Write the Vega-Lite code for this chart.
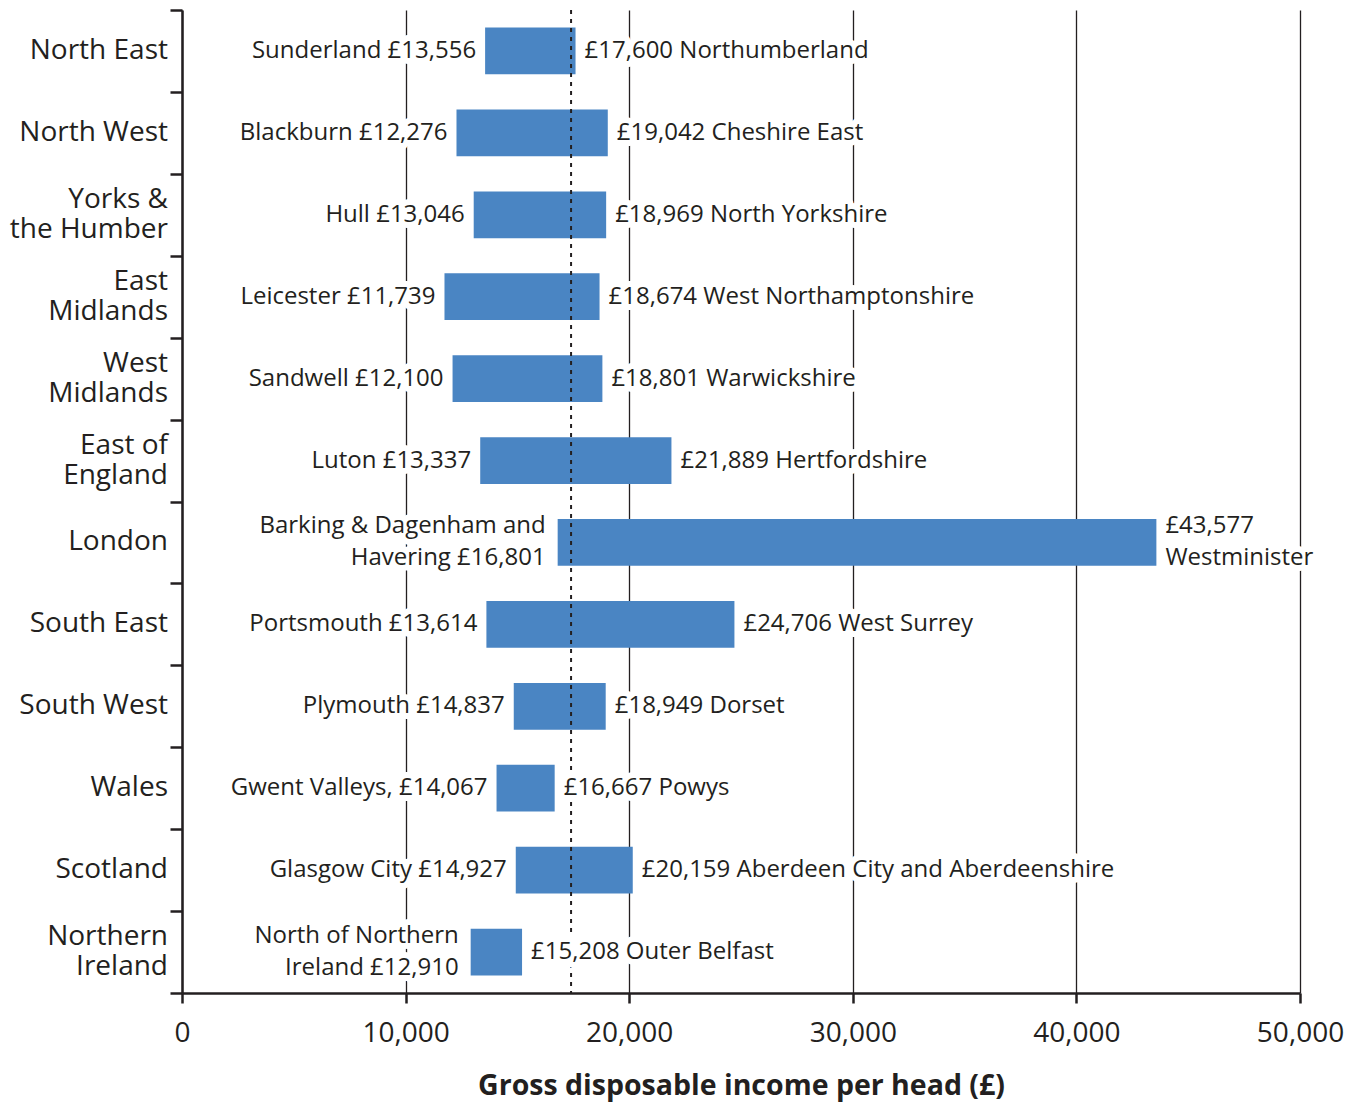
{
  "$schema": "https://vega.github.io/schema/vega-lite/v6.json",
  "width": 1118,
  "height": 983,
  "autosize": {"type": "none"},
  "padding": {"left": 182, "top": 10, "right": 59, "bottom": 109},
  "background": "white",
  "config": {
    "view": {"stroke": null},
    "font": "Open Sans",
    "axis": {
      "domainColor": "#231f20",
      "domainWidth": 2.5,
      "tickColor": "#231f20",
      "tickWidth": 2.5,
      "labelColor": "#231f20",
      "titleColor": "#231f20",
      "labelFont": "Open Sans",
      "titleFont": "Open Sans"
    }
  },
  "data": {
    "values": [
      {"region": "North East", "regionLabel": ["North East"], "lo": 13556, "hi": 17600, "loLabel": ["Sunderland £13,556"], "hiLabel": ["£17,600 Northumberland"]},
      {"region": "North West", "regionLabel": ["North West"], "lo": 12276, "hi": 19042, "loLabel": ["Blackburn £12,276"], "hiLabel": ["£19,042 Cheshire East"]},
      {"region": "Yorks & the Humber", "regionLabel": ["Yorks &", "the Humber"], "lo": 13046, "hi": 18969, "loLabel": ["Hull £13,046"], "hiLabel": ["£18,969 North Yorkshire"]},
      {"region": "East Midlands", "regionLabel": ["East", "Midlands"], "lo": 11739, "hi": 18674, "loLabel": ["Leicester £11,739"], "hiLabel": ["£18,674 West Northamptonshire"]},
      {"region": "West Midlands", "regionLabel": ["West", "Midlands"], "lo": 12100, "hi": 18801, "loLabel": ["Sandwell £12,100"], "hiLabel": ["£18,801 Warwickshire"]},
      {"region": "East of England", "regionLabel": ["East of ", "England"], "lo": 13337, "hi": 21889, "loLabel": ["Luton £13,337"], "hiLabel": ["£21,889 Hertfordshire"]},
      {"region": "London", "regionLabel": ["London"], "lo": 16801, "hi": 43577, "loLabel": ["Barking & Dagenham and", "Havering £16,801"], "hiLabel": ["£43,577", "Westminister"]},
      {"region": "South East", "regionLabel": ["South East"], "lo": 13614, "hi": 24706, "loLabel": ["Portsmouth £13,614"], "hiLabel": ["£24,706 West Surrey"]},
      {"region": "South West", "regionLabel": ["South West"], "lo": 14837, "hi": 18949, "loLabel": ["Plymouth £14,837"], "hiLabel": ["£18,949 Dorset"]},
      {"region": "Wales", "regionLabel": ["Wales"], "lo": 14067, "hi": 16667, "loLabel": ["Gwent Valleys, £14,067"], "hiLabel": ["£16,667 Powys"]},
      {"region": "Scotland", "regionLabel": ["Scotland"], "lo": 14927, "hi": 20159, "loLabel": ["Glasgow City £14,927"], "hiLabel": ["£20,159 Aberdeen City and Aberdeenshire"]},
      {"region": "Northern Ireland", "regionLabel": ["Northern", "Ireland"], "lo": 12910, "hi": 15208, "loLabel": ["North of Northern", "Ireland £12,910"], "hiLabel": ["£15,208 Outer Belfast"]}
    ]
  },
  "layer": [
    {
      "mark": {"type": "bar", "height": {"band": 0.57}, "color": "#4a85c3"},
      "encoding": {
        "y": {
          "field": "region", "type": "nominal", "sort": null,
          "scale": {"paddingInner": 0, "paddingOuter": 0},
          "axis": {
            "title": null,
            "tickBand": "extent",
            "tickSize": 12,
            "labels": false,
            "grid": false
          }
        },
        "x": {
          "field": "lo", "type": "quantitative",
          "scale": {"domain": [0, 50000], "nice": false},
          "axis": {
            "title": "Gross disposable income per head (£)",
            "values": [0, 10000, 20000, 30000, 40000, 50000],
            "format": ",d",
            "grid": true,
            "gridColor": "#231f20",
            "gridWidth": 1.3,
            "tickSize": 10,
            "labelFontSize": 28,
            "labelPadding": 16,
            "labelFlush": false,
            "titleFontSize": 28.5,
            "titleFontWeight": "bold",
            "titlePadding": 24
          }
        },
        "x2": {"field": "hi"}
      }
    },
    {
      "data": {"values": [{"average": 17400}]},
      "mark": {"type": "rule", "strokeDash": [4, 5], "strokeWidth": 2, "color": "#231f20"},
      "encoding": {"x": {"field": "average", "type": "quantitative"}}
    },
    {
      "transform": [{"filter": "length(datum.regionLabel) == 1"}],
      "mark": {"type": "text", "align": "right", "baseline": "middle", "dx": -14, "fontSize": 28, "lineHeight": 30, "color": "#231f20"},
      "encoding": {
        "y": {"field": "region", "type": "nominal", "sort": null},
        "x": {"datum": 0, "type": "quantitative"},
        "text": {"field": "regionLabel"}
      }
    },
    {
      "transform": [{"filter": "length(datum.regionLabel) > 1"}],
      "mark": {"type": "text", "align": "right", "baseline": "middle", "dx": -14, "dy": -15, "fontSize": 28, "lineHeight": 30, "color": "#231f20"},
      "encoding": {
        "y": {"field": "region", "type": "nominal", "sort": null},
        "x": {"datum": 0, "type": "quantitative"},
        "text": {"field": "regionLabel"}
      }
    },
    {
      "transform": [{"filter": "length(datum.loLabel) == 1"}],
      "encoding": {
        "y": {"field": "region", "type": "nominal", "sort": null},
        "x": {"field": "lo", "type": "quantitative"},
        "text": {"field": "loLabel"}
      },
      "layer": [
        {"mark": {"type": "text", "align": "right", "baseline": "middle", "dx": -9, "fontSize": 24, "lineHeight": 32, "stroke": "white", "strokeWidth": 12, "strokeJoin": "round", "fill": "white"}},
        {"mark": {"type": "text", "align": "right", "baseline": "middle", "dx": -9, "fontSize": 24, "lineHeight": 32, "color": "#231f20"}}
      ]
    },
    {
      "transform": [{"filter": "length(datum.loLabel) > 1"}],
      "encoding": {
        "y": {"field": "region", "type": "nominal", "sort": null},
        "x": {"field": "lo", "type": "quantitative"},
        "text": {"field": "loLabel"}
      },
      "layer": [
        {"mark": {"type": "text", "align": "right", "baseline": "middle", "dx": -12, "dy": -16, "fontSize": 24, "lineHeight": 32, "stroke": "white", "strokeWidth": 12, "strokeJoin": "round", "fill": "white"}},
        {"mark": {"type": "text", "align": "right", "baseline": "middle", "dx": -12, "dy": -16, "fontSize": 24, "lineHeight": 32, "color": "#231f20"}}
      ]
    },
    {
      "transform": [{"filter": "length(datum.hiLabel) == 1"}],
      "encoding": {
        "y": {"field": "region", "type": "nominal", "sort": null},
        "x": {"field": "hi", "type": "quantitative"},
        "text": {"field": "hiLabel"}
      },
      "layer": [
        {"mark": {"type": "text", "align": "left", "baseline": "middle", "dx": 9, "fontSize": 24, "lineHeight": 32, "stroke": "white", "strokeWidth": 12, "strokeJoin": "round", "fill": "white"}},
        {"mark": {"type": "text", "align": "left", "baseline": "middle", "dx": 9, "fontSize": 24, "lineHeight": 32, "color": "#231f20"}}
      ]
    },
    {
      "transform": [{"filter": "length(datum.hiLabel) > 1"}],
      "encoding": {
        "y": {"field": "region", "type": "nominal", "sort": null},
        "x": {"field": "hi", "type": "quantitative"},
        "text": {"field": "hiLabel"}
      },
      "layer": [
        {"mark": {"type": "text", "align": "left", "baseline": "middle", "dx": 9, "dy": -16, "fontSize": 24, "lineHeight": 32, "stroke": "white", "strokeWidth": 12, "strokeJoin": "round", "fill": "white"}},
        {"mark": {"type": "text", "align": "left", "baseline": "middle", "dx": 9, "dy": -16, "fontSize": 24, "lineHeight": 32, "color": "#231f20"}}
      ]
    }
  ]
}
